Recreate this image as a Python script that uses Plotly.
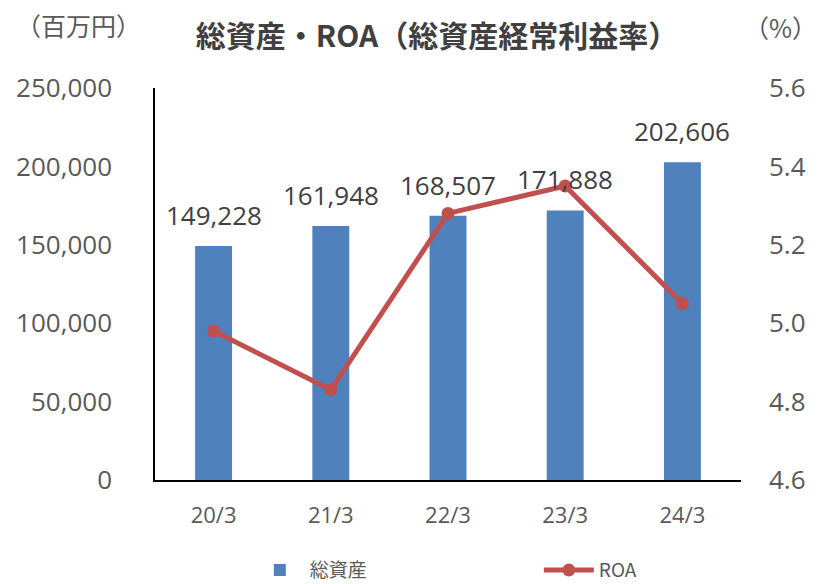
import plotly.graph_objects as go

categories = ["20/3", "21/3", "22/3", "23/3", "24/3"]
total_assets = [149228, 161948, 168507, 171888, 202606]
roa = [4.98, 4.83, 5.28, 5.35, 5.05]
left_ticks = [0, 50000, 100000, 150000, 200000, 250000]
right_ticks = [4.6, 4.8, 5.0, 5.2, 5.4, 5.6]

NUM_FONT = "Open Sans, Liberation Sans, sans-serif"
JP_FONT = "Noto Sans CJK JP, sans-serif"

# the page body has an 8px margin, so the figure is 8px smaller
W, H = 817, 576

fig = go.Figure()
fig.add_trace(go.Bar(
    x=categories, y=total_assets, name="総資産",
    marker=dict(color="#4F81BD", line=dict(width=0)),
    width=0.315, yaxis="y",
))
fig.add_trace(go.Scatter(
    x=categories, y=roa, name="ROA", yaxis="y2",
    mode="lines+markers",
    line=dict(color="#C0504D", width=5),
    marker=dict(color="#C0504D", size=13),
))

for c, v in zip(categories, total_assets):
    fig.add_annotation(
        x=c, y=v, xref="x", yref="y", text=f"{v:,}", showarrow=False,
        yanchor="middle", yshift=31,
        font=dict(family=NUM_FONT, size=26, color="#404040"),
    )

fig.add_annotation(
    x=-0.130, y=1.160, xref="paper", yref="paper", text="（百万円）",
    showarrow=False, xanchor="center", yanchor="middle",
    font=dict(family=JP_FONT, size=25, color="#595959"),
)
fig.add_annotation(
    x=1.067, y=1.155, xref="paper", yref="paper", text="（%）",
    showarrow=False, xanchor="center", yanchor="middle",
    font=dict(family=JP_FONT, size=25, color="#595959"),
)

fig.update_layout(
    width=W, height=H,
    margin=dict(l=147, r=84, t=80, b=104, autoexpand=False),
    paper_bgcolor="white", plot_bgcolor="white",
    title=dict(
        text="<b>総資産・ROA（総資産経常利益率）</b>",
        x=429 / W, xanchor="center", y=1 - 28 / H, yanchor="middle",
        font=dict(family=JP_FONT, size=30, color="#404040"),
    ),
    xaxis=dict(
        showgrid=False, showline=True, linecolor="black", linewidth=1.5,
        ticks="", tickfont=dict(family=NUM_FONT, size=22, color="#595959"),
        ticklabelstandoff=15,
    ),
    yaxis=dict(
        range=[0, 250000], tickvals=left_ticks,
        ticktext=[f"{t:,}" for t in left_ticks],
        showgrid=False, zeroline=False, showline=True, linecolor="black",
        linewidth=1.5, ticks="",
        tickfont=dict(family=NUM_FONT, size=26, color="#595959"),
        ticklabelstandoff=36,
    ),
    yaxis2=dict(
        range=[4.6, 5.6], tickvals=right_ticks,
        ticktext=[f"{t:.1f}" for t in right_ticks],
        overlaying="y", side="right", showgrid=False, zeroline=False,
        showline=False, ticks="",
        tickfont=dict(family=NUM_FONT, size=26, color="#595959"),
        ticklabelstandoff=27,
    ),
    legend=dict(
        orientation="h", x=0.655, xanchor="center", y=-0.23, yanchor="middle",
        font=dict(family=JP_FONT, size=19, color="#595959"),
        entrywidth=224, itemwidth=50,
    ),
    showlegend=True,
)

fig.write_html("out.html")
